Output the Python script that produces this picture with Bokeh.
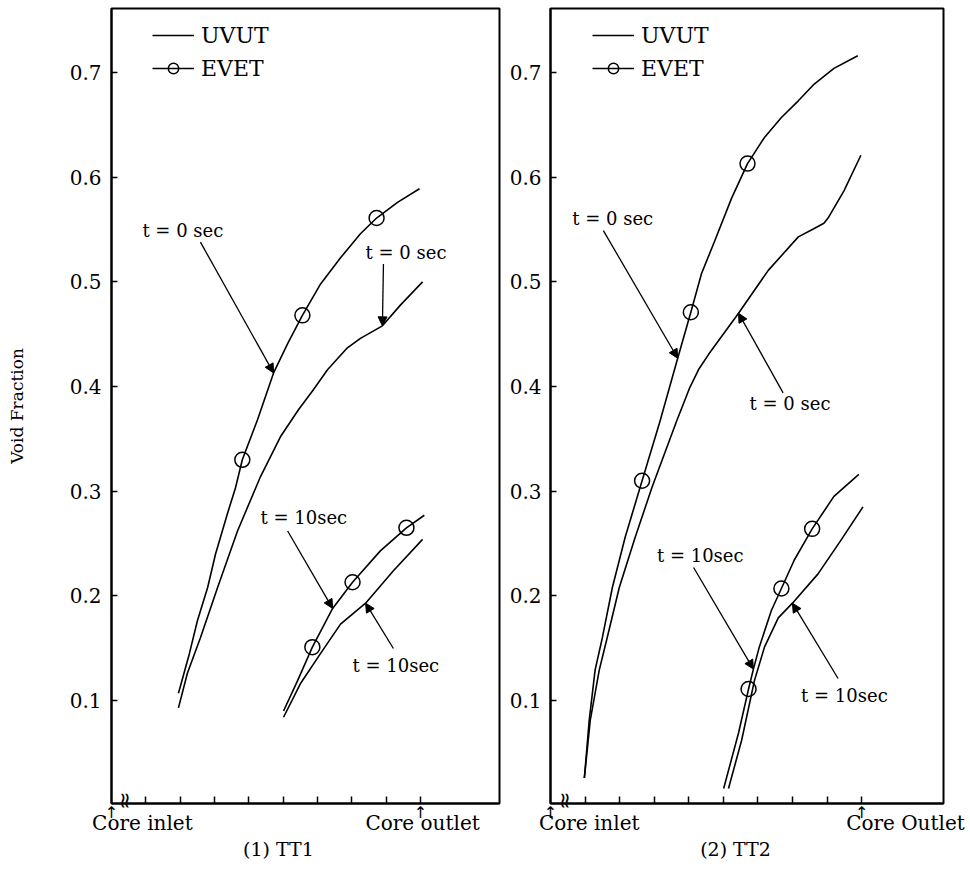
from bokeh.plotting import figure
from bokeh.models import (Range1d, FixedTicker, Label, Arrow, NormalHead,
                          Legend, LegendItem, LinearAxis)
from bokeh.layouts import row
from bokeh.embed import file_html
from bokeh.resources import INLINE

SERIF = "DejaVu Serif"
INK = "black"

# ---------------- data (x in axial node units, 0 = core inlet, 9 = core outlet) ----
y_ticks = [0.1, 0.2, 0.3, 0.4, 0.5, 0.6, 0.7]
y_tick_labels = ["0.1", "0.2", "0.3", "0.4", "0.5", "0.6", "0.7"]
x_ticks = [1, 2, 3, 4, 5, 6, 7, 8, 9]
inlet_pos = 0
outlet_pos = 9
break_pos = 0.42

# TT1
tt1_evet_t0_x = [1.95, 2.27, 2.50, 2.80, 3.03, 3.38, 3.61, 3.81, 4.25, 4.72, 5.13, 5.56, 6.09, 6.67, 7.25, 7.72, 8.33, 8.97]
tt1_evet_t0_y = [0.107, 0.145, 0.176, 0.208, 0.240, 0.279, 0.303, 0.330, 0.368, 0.413, 0.441, 0.468, 0.498, 0.523, 0.546, 0.561, 0.576, 0.589]
tt1_uvut_t0_x = [1.95, 2.21, 2.59, 3.09, 3.67, 4.34, 4.92, 5.45, 5.88, 6.29, 6.87, 7.25, 7.89, 8.42, 9.06]
tt1_uvut_t0_y = [0.093, 0.126, 0.160, 0.208, 0.262, 0.314, 0.352, 0.378, 0.397, 0.416, 0.437, 0.446, 0.458, 0.478, 0.500]
tt1_evet_t10_x = [5.01, 5.42, 5.85, 6.44, 7.02, 7.83, 8.59, 9.11]
tt1_evet_t10_y = [0.090, 0.119, 0.151, 0.188, 0.213, 0.243, 0.265, 0.277]
tt1_uvut_t10_x = [5.01, 5.50, 6.09, 6.67, 7.40, 8.21, 9.06]
tt1_uvut_t10_y = [0.084, 0.116, 0.145, 0.173, 0.193, 0.224, 0.254]
tt1_evet_marks_x = [3.81, 5.56, 7.72, 5.85, 7.02, 8.59]
tt1_evet_marks_y = [0.330, 0.468, 0.561, 0.151, 0.213, 0.265]

# TT2
tt2_evet_t0_x = [0.98, 1.12, 1.29, 1.50, 1.79, 2.16, 2.65, 3.17, 3.68, 4.06, 4.37, 4.75, 5.24, 5.70, 6.19, 6.68, 7.17, 7.63, 8.20, 8.89]
tt2_evet_t0_y = [0.026, 0.081, 0.129, 0.160, 0.208, 0.256, 0.310, 0.367, 0.427, 0.471, 0.508, 0.539, 0.580, 0.613, 0.638, 0.657, 0.673, 0.689, 0.704, 0.716]
tt2_uvut_t0_x = [0.98, 1.15, 1.41, 1.64, 1.99, 2.45, 2.94, 3.65, 4.03, 4.28, 4.58, 5.44, 6.30, 7.17, 7.63, 7.91, 8.03, 8.49, 8.98]
tt2_uvut_t0_y = [0.026, 0.081, 0.129, 0.160, 0.208, 0.256, 0.304, 0.367, 0.399, 0.416, 0.431, 0.470, 0.511, 0.543, 0.551, 0.556, 0.561, 0.587, 0.621]
tt2_evet_t10_x = [5.01, 5.44, 5.73, 5.87, 6.04, 6.39, 6.68, 7.05, 7.57, 8.20, 8.92]
tt2_evet_t10_y = [0.016, 0.069, 0.111, 0.130, 0.151, 0.186, 0.207, 0.234, 0.264, 0.295, 0.316]
tt2_uvut_t10_x = [5.15, 5.53, 5.90, 6.19, 6.59, 7.00, 7.74, 8.40, 9.04]
tt2_uvut_t10_y = [0.016, 0.062, 0.119, 0.151, 0.179, 0.193, 0.221, 0.253, 0.285]
tt2_evet_marks_x = [2.65, 4.06, 5.70, 5.73, 6.68, 7.57]
tt2_evet_marks_y = [0.310, 0.471, 0.613, 0.111, 0.207, 0.264]

label_t0 = "t =  0 sec"
label_t10 = "t = 10sec"


def style_axes(p, standoff):
    p.grid.visible = False
    p.outline_line_color = INK
    p.outline_line_width = 2
    p.background_fill_color = "white"
    p.border_fill_color = "white"
    ya = p.yaxis[0]
    ya.ticker = FixedTicker(ticks=y_ticks)
    ya.major_label_overrides = {t: s for t, s in zip(y_ticks, y_tick_labels)}
    ya.major_tick_in = 6
    ya.major_tick_out = 0
    ya.minor_tick_in = 0
    ya.minor_tick_out = 0
    ya.major_tick_line_width = 1.5
    ya.major_tick_line_color = INK
    ya.axis_line_width = 2
    ya.axis_line_color = INK
    ya.major_label_text_font = SERIF
    ya.major_label_text_font_size = "20px"
    ya.major_label_text_color = INK
    ya.major_label_standoff = standoff
    xa = p.xaxis[0]
    xa.ticker = FixedTicker(ticks=x_ticks)
    xa.major_label_overrides = {t: "" for t in x_ticks}
    xa.major_label_text_font_size = "1px"
    xa.major_label_standoff = 0
    xa.major_tick_in = 7
    xa.major_tick_out = 0
    xa.minor_tick_in = 0
    xa.minor_tick_out = 0
    xa.major_tick_line_width = 1.5
    xa.major_tick_line_color = INK
    xa.axis_line_width = 2
    xa.axis_line_color = INK


def text_axis(p, ticks, labels, font, size, standoff, orientation="horizontal"):
    ax = LinearAxis(ticker=FixedTicker(ticks=ticks),
                    major_label_overrides=dict(zip(ticks, labels)),
                    axis_line_color=None, major_tick_line_color=None,
                    minor_tick_line_color=None, major_tick_in=0,
                    major_tick_out=0, minor_tick_in=0, minor_tick_out=0,
                    major_label_text_font=font,
                    major_label_text_font_size=size,
                    major_label_text_color=INK,
                    major_label_orientation=orientation,
                    major_label_standoff=standoff)
    p.add_layout(ax, "below")


def add_curves(p, ex0, ey0, ux0, uy0, ex10, ey10, ux10, uy10, mx, my, loc):
    kw = dict(line_color=INK, line_width=1.6, line_join="round")
    r_e0 = p.line(ex0, ey0, **kw)
    r_u0 = p.line(ux0, uy0, **kw)
    p.line(ex10, ey10, **kw)
    p.line(ux10, uy10, **kw)
    r_m = p.scatter(mx, my, marker="circle", size=15, fill_color=None,
                    line_color=INK, line_width=1.5)
    legend = Legend(items=[LegendItem(label="UVUT", renderers=[r_u0]),
                           LegendItem(label="EVET", renderers=[r_e0, r_m])],
                    location=loc, border_line_color=None,
                    background_fill_alpha=0, padding=0, margin=0, spacing=7,
                    glyph_width=42, glyph_height=26, label_height=26,
                    label_standoff=7, label_text_font=SERIF,
                    label_text_color=INK, label_text_font_size="22px")
    p.add_layout(legend)


def annotate(p, text, tx, ty, sx, sy, ex, ey):
    p.add_layout(Label(x=tx, y=ty, text=text, text_font=SERIF,
                       text_font_size="18px", text_color=INK,
                       text_align="left", text_baseline="middle"))
    p.add_layout(Arrow(end=NormalHead(size=9, fill_color=INK, line_color=INK),
                       x_start=sx, y_start=sy, x_end=ex, y_end=ey,
                       line_color=INK, line_width=1.3))


def add_bottom(p, inlet_x, outlet_x, outlet_text, title_x, title_text):
    text_axis(p, [break_pos], ["\u2248"], "DejaVu Sans", "22px", -12, "vertical")
    text_axis(p, [inlet_pos, outlet_pos], ["\u2191", "\u2191"],
              "DejaVu Sans", "16px", -10)
    text_axis(p, [inlet_x, outlet_x], ["Core inlet", outlet_text], SERIF, "20px", -14)
    text_axis(p, [title_x], [title_text], SERIF, "19px", 0)


H = 872
Y0, Y1 = 0.0016, 0.7612
# ---------------- panel 1 ----------------
p1 = figure(width=506, height=H, x_range=Range1d(0, 11.30),
            y_range=Range1d(Y0, Y1), output_backend="svg",
            toolbar_location=None, min_border_left=111, min_border_right=7,
            min_border_top=8, min_border_bottom=69)
style_axes(p1, 10)
ya1 = p1.yaxis[0]
ya1.axis_label = "Void Fraction"
ya1.axis_label_text_font = SERIF
ya1.axis_label_text_font_style = "normal"
ya1.axis_label_text_font_size = "17px"
ya1.axis_label_text_color = INK
ya1.axis_label_standoff = 40
add_curves(p1, tt1_evet_t0_x, tt1_evet_t0_y, tt1_uvut_t0_x, tt1_uvut_t0_y,
           tt1_evet_t10_x, tt1_evet_t10_y, tt1_uvut_t10_x, tt1_uvut_t10_y,
           tt1_evet_marks_x, tt1_evet_marks_y, (41, 722))
annotate(p1, label_t0, 0.90, 0.549, 2.59, 0.538, tt1_evet_t0_x[9], tt1_evet_t0_y[9])
annotate(p1, label_t0, 7.40, 0.528, 7.92, 0.517, tt1_uvut_t0_x[12], tt1_uvut_t0_y[12])
annotate(p1, label_t10, 4.34, 0.275, 5.13, 0.262, tt1_evet_t10_x[3], tt1_evet_t10_y[3])
annotate(p1, label_t10, 7.02, 0.1335, 8.21, 0.1497, tt1_uvut_t10_x[4], tt1_uvut_t10_y[4])
add_bottom(p1, 0.90, 9.06, "Core outlet", 4.95, "(1)  TT1")

# ---------------- panel 2 ----------------
p2 = figure(width=464, height=H, x_range=Range1d(0, 11.37),
            y_range=Range1d(Y0, Y1), output_backend="svg",
            toolbar_location=None, min_border_left=42, min_border_right=27,
            min_border_top=8, min_border_bottom=69)
style_axes(p2, 9)
add_curves(p2, tt2_evet_t0_x, tt2_evet_t0_y, tt2_uvut_t0_x, tt2_uvut_t0_y,
           tt2_evet_t10_x, tt2_evet_t10_y, tt2_uvut_t10_x, tt2_uvut_t10_y,
           tt2_evet_marks_x, tt2_evet_marks_y, (42, 722))
annotate(p2, label_t0, 0.63, 0.5605, 1.53, 0.549, tt2_evet_t0_x[8], tt2_evet_t0_y[8])
annotate(p2, label_t0, 5.76, 0.384, 6.73, 0.394, tt2_uvut_t0_x[11], tt2_uvut_t0_y[11])
annotate(p2, label_t10, 3.08, 0.2386, 4.14, 0.2271, tt2_evet_t10_x[3], tt2_evet_t10_y[3])
annotate(p2, label_t10, 7.25, 0.1048, 8.32, 0.121, tt2_uvut_t10_x[5], tt2_uvut_t10_y[5])
add_bottom(p2, 1.12, 10.27, "Core Outlet", 5.44, "(2)  TT2")

layout = row(p1, p2)
open("out.html", "w").write(file_html(layout, INLINE))
